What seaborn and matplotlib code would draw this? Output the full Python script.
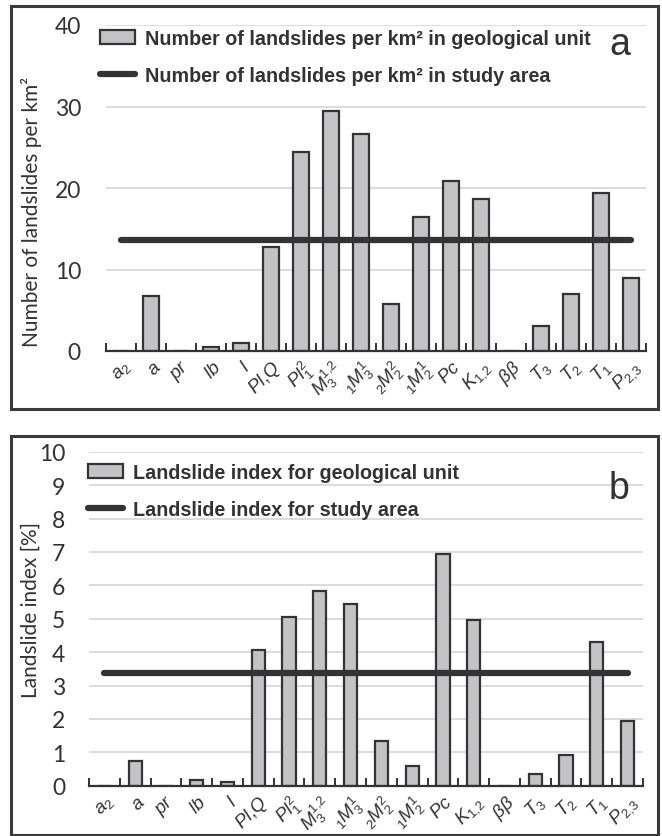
import matplotlib
matplotlib.use("Agg")
import matplotlib.pyplot as plt
from matplotlib.patches import Rectangle, Patch
from matplotlib.lines import Line2D
from matplotlib.ticker import MultipleLocator, FixedLocator
import seaborn as sns

sns.set_theme(style="white")
plt.rcParams["mathtext.fontset"] = "custom"
plt.rcParams["mathtext.it"] = "Liberation Sans:italic"
plt.rcParams["mathtext.rm"] = "Liberation Sans"

# geological units
units = [r"$a_2$", r"$a$", r"$pr$", r"$lb$", r"$l$", r"$Pl{,}Q$", r"$Pl_1^2$",
         r"$M_3^{1{,}2}$", r"${}_1M_3^1$", r"${}_2M_2^2$", r"${}_1M_2^1$", r"$Pc$",
         r"$K_{1{,}2}$", r"$\beta\beta$", r"$T_3$", r"$T_2$", r"$T_1$", r"$P_{2{,}3}$"]

# (a) landslides per km2
density_unit = [0, 6.8, 0, 0.5, 1.0, 12.7, 24.4, 29.5, 26.6, 5.8, 16.4, 20.8,
                18.7, 0, 3.1, 7.0, 19.4, 8.9]
density_area = 13.6

# (b) landslide index [%]
index_unit = [0, 0.73, 0, 0.16, 0.1, 4.05, 5.05, 5.82, 5.44, 1.35, 0.6, 6.93,
              4.97, 0, 0.36, 0.93, 4.29, 1.94]
index_area = 3.38

BAR = "#c3c3c5"
DARK = "#333333"
GRID = "#d9d9d9"


def panel(ax, vals, mean, ymax, ystep, width, ylabel, ylab_pos, leg_labels, leg_anchor,
          letter, letter_pos, ypad):
    sns.barplot(x=units, y=vals, ax=ax, color=BAR, edgecolor=DARK, linewidth=1.6,
                width=width, saturation=1, errorbar=None)
    lc = ax.hlines(mean, 0, len(units) - 1, colors=DARK, linewidth=4.5, zorder=4)
    lc.set_capstyle("round")
    ax.set_xlim(-0.5, len(units) - 0.5)
    ax.set_ylim(0, ymax)
    ax.yaxis.set_major_locator(MultipleLocator(ystep))
    ax.grid(axis="y", color=GRID, linewidth=1.3)
    ax.set_axisbelow(True)
    for s in ["top", "right", "left"]:
        ax.spines[s].set_visible(False)
    ax.spines["bottom"].set_color(DARK)
    ax.spines["bottom"].set_linewidth(1.6)
    ax.spines["bottom"].set_zorder(5)
    ax.xaxis.set_minor_locator(FixedLocator([i - 0.5 for i in range(len(units) + 1)]))
    ax.tick_params(axis="x", which="minor", direction="in", length=6, width=1.4,
                   color=DARK, bottom=True)
    ax.tick_params(axis="x", which="major", length=0, pad=4, labelsize=13.5, labelcolor=DARK)
    ax.tick_params(axis="y", length=0, pad=ypad, labelsize=16.5, labelcolor=DARK)
    for t in ax.get_yticklabels():
        t.set_fontfamily("Lato")
    ax.set_xticks(range(len(units)))
    ax.set_xticklabels(units, rotation=45, ha="right", rotation_mode="anchor")
    ax.set_xlabel("")
    ax.set_ylabel(ylabel, fontsize=15, family="Lato", color=DARK)
    ax.yaxis.set_label_coords(*ylab_pos)
    handles = [Patch(facecolor=BAR, edgecolor=DARK, linewidth=1.6),
               Line2D([0], [0], color=DARK, linewidth=4.5, solid_capstyle="round")]
    fig.legend(handles, leg_labels, loc="upper left", bbox_to_anchor=leg_anchor,
               frameon=False, borderpad=0, borderaxespad=0, handlelength=1.75,
               handleheight=0.72, handletextpad=0.55, labelspacing=0.9,
               prop={"family": "Liberation Sans", "weight": "bold", "size": 14.2},
               labelcolor=DARK)
    fig.text(letter_pos[0], letter_pos[1], letter, fontsize=27, family="Liberation Sans",
             color=DARK, ha="center", va="baseline")


fig = plt.figure(figsize=(6.62, 8.37), dpi=100)
ax_a = fig.add_axes([106 / 662, 1 - 352 / 837, 540 / 662, 326 / 837])
ax_b = fig.add_axes([89 / 662, 1 - 786.7 / 837, 554 / 662, 334 / 837])

panel(ax_a, density_unit, density_area, 40, 10, 0.53, "Number of landslides per km²",
      (-0.118, 0.43),
      ["Number of landslides per km² in geological unit",
       "Number of landslides per km² in study area"],
      (100 / 662, 1 - 30 / 837), "a", (620 / 662, 1 - 55 / 837), 18)
panel(ax_b, index_unit, index_area, 10, 1, 0.43, "Landslide index [%]",
      (-0.088, 0.53),
      ["Landslide index for geological unit", "Landslide index for study area"],
      (88 / 662, 1 - 464 / 837), "b", (619 / 662, 1 - 499 / 837), 17)

for y0, h in [(1 - 410 / 837, 403 / 837), (1 - 836 / 837, 399 / 837)]:
    fig.patches.append(Rectangle((11 / 662, y0), 647 / 662, h, transform=fig.transFigure,
                                 fill=False, edgecolor="#3a3a3a", linewidth=2.2))

fig.savefig("out.png", dpi=100)
